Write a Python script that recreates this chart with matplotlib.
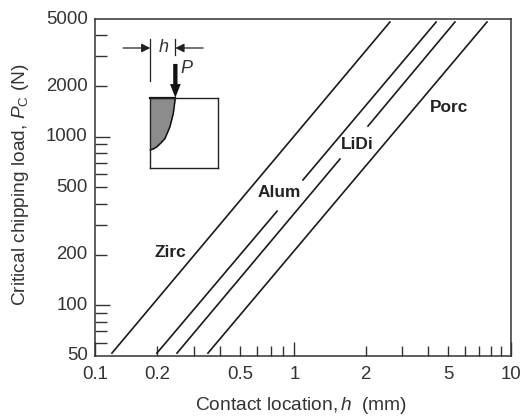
import matplotlib
matplotlib.use('Agg')
import matplotlib.pyplot as plt
from matplotlib.ticker import FixedLocator, NullFormatter

plt.rcParams['font.family'] = ['Liberation Sans', 'DejaVu Sans']
plt.rcParams['mathtext.fontset'] = 'custom'
plt.rcParams['mathtext.rm'] = 'Liberation Sans'
plt.rcParams['mathtext.it'] = 'Liberation Sans:italic'

TEXT = '#333333'
LINE = '#1a1a1a'

# line end points, split where a label sits on the line
zirc_h = [0.121, 2.62]
zirc_p = [52, 4800]
alum_h = [[0.199, 0.752], [1.001, 4.37]]
alum_p = [[52, 362], [554, 4800]]
lidi_h = [[0.2485, 1.508], [2.056, 5.38]]
lidi_p = [[52, 738], [1158, 4800]]
porc_h = [0.35, 7.67]
porc_p = [52, 4800]

labels = ['Zirc', 'Alum', 'LiDi', 'Porc']
label_h = [0.232, 0.767, 1.82, 5.05]
label_p = [207, 470, 906, 1500]

# the original's long tick for "1" sits a little left of the true decade
x_ticks = [0.1, 0.2, 0.5, 0.91, 2, 5, 10]
x_ticklabels = ['0.1', '0.2', '0.5', '1', '2', '5', '10']
x_major = [0.1, 0.91, 10]
x_minor = [0.2, 0.3, 0.4, 0.5, 0.6, 0.7, 0.8, 2, 3, 4, 5, 6, 7, 8, 9]
y_ticks = [50, 100, 200, 500, 1000, 2000, 5000]
y_minor = [60, 70, 80, 90, 200, 300, 400, 500, 600, 700, 800, 900, 2000, 3000, 4000]

fig = plt.figure(figsize=(5.23, 4.16), dpi=100)
ax = fig.add_axes([94.7/523, 60/416, 416.3/523, 337/416])

ax.plot(zirc_h, zirc_p, color=LINE, lw=1.2)
ax.plot(porc_h, porc_p, color=LINE, lw=1.2)
for h, p in zip(alum_h, alum_p):
    ax.plot(h, p, color=LINE, lw=1.2)
for h, p in zip(lidi_h, lidi_p):
    ax.plot(h, p, color=LINE, lw=1.2)

ax.set_xscale('log')
ax.set_yscale('log')
ax.set_xlim(0.1, 10)
ax.set_ylim(50, 5000)

ax.xaxis.set_major_locator(FixedLocator(x_major))
ax.xaxis.set_major_formatter(NullFormatter())
ax.xaxis.set_minor_locator(FixedLocator(x_minor))
ax.xaxis.set_minor_formatter(NullFormatter())
ax.yaxis.set_major_locator(FixedLocator([100, 1000]))
ax.yaxis.set_major_formatter(NullFormatter())
ax.yaxis.set_minor_locator(FixedLocator(y_minor))
ax.yaxis.set_minor_formatter(NullFormatter())
ax.tick_params(which='major', direction='in', length=11, width=1, color='#333333')
ax.tick_params(which='minor', direction='in', length=8.5, width=1, color='#333333')
ax.tick_params(axis='x', which='major', length=10)
ax.tick_params(axis='x', which='minor', length=7.5)

# tick labels as separate text so that the long/short ticks stay independent
for t, s in zip(x_ticks, x_ticklabels):
    ax.annotate(s, (t, 0), xycoords=ax.get_xaxis_transform(), xytext=(0, -7.5),
                textcoords='offset points', ha='center', va='top', fontsize=13.4, color=TEXT)
for t in y_ticks:
    ax.annotate(str(t), (0, t), xycoords=ax.get_yaxis_transform(), xytext=(-5, 0),
                textcoords='offset points', ha='right', va='center', fontsize=13.4, color=TEXT)

for spine in ax.spines.values():
    spine.set_linewidth(1.1)
    spine.set_color('#333333')

for s, h, p in zip(labels, label_h, label_p):
    ax.text(h, p, s, fontsize=12.4, fontweight='bold', color='#222222', ha='center', va='center')

fig.text(301/523, 1 - 405.5/416, 'Contact location,$\\,\\mathit{h}$  (mm)', fontsize=13.8,
         color=TEXT, ha='center', va='center')
fig.text(21/523, 1 - 185/416, 'Critical chipping load, $\\mathit{P}_{\\mathrm{C}}$ (N)', fontsize=13.8,
         color=TEXT, ha='center', va='center', rotation=90)

# specimen sketch, in its own 0-1 square
crack_x = [0.0, 0.05, 0.094, 0.155, 0.217, 0.29, 0.34, 0.37]
crack_y = [0.256, 0.275, 0.30, 0.355, 0.42, 0.587, 0.778, 1.0]
sk = fig.add_axes([150.3/523, 1 - 168/416, 67.7/523, 70.3/416])
sk.set_xlim(0, 1)
sk.set_ylim(0, 1)
sk.set_xticks([])
sk.set_yticks([])
sk.patch.set_alpha(0)
for spine in sk.spines.values():
    spine.set_linewidth(1)
    spine.set_color('#222222')
sk.fill_between(crack_x, crack_y, 1, color='#8c8c8e', lw=0)
sk.plot(crack_x, crack_y, color='#111111', lw=1.1, clip_on=False)
sk.plot([0, 0.37], [1, 1], color='#111111', lw=1.6, clip_on=False)

# h dimension and load arrow above the square
sk.plot([0, 0], [1.24, 1.835], color='#222222', lw=0.9, clip_on=False)
sk.plot([0.37, 0.37], [1.607, 1.835], color='#222222', lw=0.9, clip_on=False)
sk.annotate('', xy=(0, 1.707), xytext=(-0.40, 1.707), annotation_clip=False,
            arrowprops=dict(arrowstyle='-|>', color='#222222', lw=0.9, mutation_scale=13,
                            shrinkA=0, shrinkB=0))
sk.annotate('', xy=(0.37, 1.707), xytext=(0.78, 1.707), annotation_clip=False,
            arrowprops=dict(arrowstyle='-|>', color='#222222', lw=0.9, mutation_scale=13,
                            shrinkA=0, shrinkB=0))
sk.annotate('', xy=(0.37, 1.0), xytext=(0.37, 1.48), annotation_clip=False,
            arrowprops=dict(arrowstyle='simple,head_width=0.55,head_length=0.7,tail_width=0.22',
                            color='#111111', lw=0, mutation_scale=14, shrinkA=0, shrinkB=0))
sk.text(0.19, 1.707, '$\\mathit{h}$', fontsize=13, color=TEXT, ha='center', va='center', clip_on=False)
sk.text(0.54, 1.42, '$\\mathit{P}$', fontsize=13, color=TEXT, ha='center', va='center', clip_on=False)

fig.savefig('out.png', dpi=100)
